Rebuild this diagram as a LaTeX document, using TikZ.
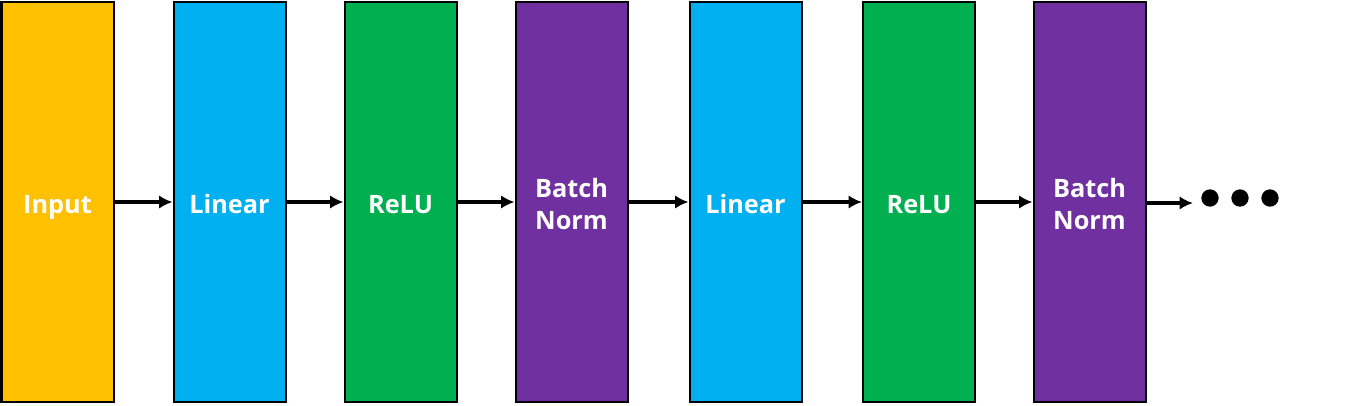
\documentclass[tikz,border=0pt]{standalone}
\usepackage{fontspec}
\setmainfont{Open Sans}
\usepackage{tikz}
\usetikzlibrary{arrows.meta}

\begin{document}
\begin{tikzpicture}[x=0.75pt,y=-0.75pt,>={Latex[length=10pt,width=10pt]},
  layer/.style={draw=black,line width=1.5pt,minimum width=84pt,minimum height=300.5pt,
    inner sep=0pt,text=white,align=center,
    execute at begin node={\rule{0pt}{24.3pt}},
    execute at end node={\rule[-7.2pt]{0pt}{7.2pt}},
    font=\fontsize{19}{24}\selectfont\bfseries},
  flow/.style={->,line width=2.8pt}]
\useasboundingbox (0,0) rectangle (1350,405);
\node[layer,fill={rgb,255:red,255;green,192;blue,0}] (in) at (57.5,202) {Input};
\node[layer,fill={rgb,255:red,0;green,176;blue,240}] (lin1) at (229.5,202) {Linear};
\node[layer,fill={rgb,255:red,0;green,176;blue,80}] (relu1) at (400.5,202) {ReLU};
\node[layer,fill={rgb,255:red,112;green,48;blue,160}] (bn1) at (571.5,202) {\rule{0pt}{24pt}Batch\\Norm};
\node[layer,fill={rgb,255:red,0;green,176;blue,240}] (lin2) at (745.5,202) {Linear};
\node[layer,fill={rgb,255:red,0;green,176;blue,80}] (relu2) at (919,202) {ReLU};
\node[layer,fill={rgb,255:red,112;green,48;blue,160}] (bn2) at (1089.5,202) {\rule{0pt}{24pt}Batch\\Norm};
\coordinate (end) at (1193,203);
\draw[flow] (in) -- (lin1);
\draw[flow] (lin1) -- (relu1);
\draw[flow] (relu1) -- (bn1);
\draw[flow] (bn1) -- (lin2);
\draw[flow] (lin2) -- (relu2);
\draw[flow] (relu2) -- (bn2);
\draw[flow] (bn2.east |- end) -- (end);
\foreach \x in {1210,1240,1270} \fill (\x,198) circle (6.5pt);
\end{tikzpicture}
\end{document}
